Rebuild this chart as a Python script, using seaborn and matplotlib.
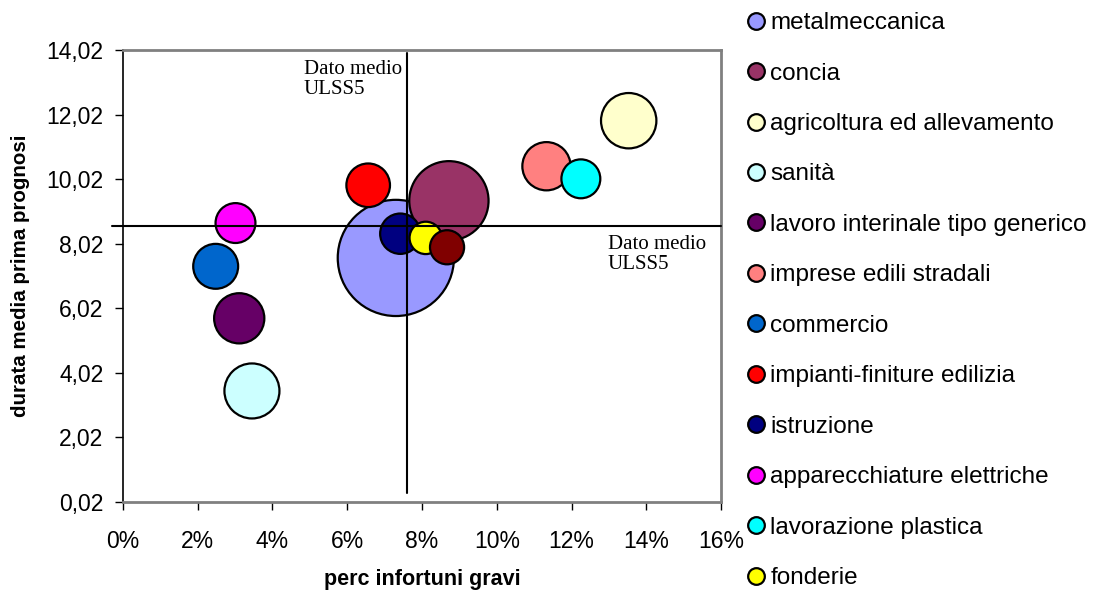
import numpy as np
import pandas as pd
import matplotlib
matplotlib.use("Agg")
import matplotlib.pyplot as plt
from matplotlib.lines import Line2D
from matplotlib.ticker import FixedLocator, FuncFormatter
import seaborn as sns

# settori (ordine di disegno = ordine legenda)
settori = ["metalmeccanica", "concia", "agricoltura ed allevamento", "sanità",
           "lavoro interinale tipo generico", "imprese edili stradali", "commercio",
           "impianti-finiture edilizia", "istruzione", "apparecchiature elettriche",
           "lavorazione plastica", "fonderie", "legno"]
perc_gravi = [0.0730, 0.0872, 0.1353, 0.0345, 0.0311, 0.1133, 0.0248,
              0.0656, 0.0742, 0.0301, 0.1225, 0.0810, 0.0867]
durata_media = [7.58, 9.35, 11.83, 3.46, 5.71, 10.42, 7.32,
                9.83, 8.33, 8.66, 10.03, 8.20, 7.91]
n_casi = [348, 162, 79, 78, 65, 60, 52, 49, 42, 41, 39, 27, 30]
colori = ["#9999FF", "#993366", "#FFFFCC", "#CCFFFF", "#660066", "#FF8080", "#0066CC",
          "#FF0000", "#000080", "#FF00FF", "#00FFFF", "#FFFF00", "#800000"]

# dato medio ULSS5
media_x = 0.0759
media_y = 8.56

df = pd.DataFrame({"settore": settori, "perc": perc_gravi,
                   "durata": durata_media, "casi": n_casi})
palette = dict(zip(settori, colori))

sns.set_style("white")
plt.rcParams["font.family"] = ["Liberation Sans", "DejaVu Sans"]
plt.rcParams.update({"text.color": "black", "axes.labelcolor": "black",
                     "xtick.color": "black", "ytick.color": "black"})

fig = plt.figure(figsize=(11.17, 5.98), dpi=100)
ax = fig.add_axes([0.1101, 0.1605, 0.5354, 0.7559])

sns.scatterplot(data=df, x="perc", y="durata", hue="settore", hue_order=settori,
                palette=palette, size="casi", sizes=(0, 7000), size_norm=(0, 348),
                edgecolor="black", linewidth=1.6, alpha=1, legend=False, ax=ax,
                zorder=3)

# linee del dato medio
ax.plot([-0.003, 0.16], [media_y, media_y], color="black", lw=1.5,
        clip_on=False, zorder=4)
ax.plot([media_x, media_x], [0.30, 13.93], color="black", lw=1.5, zorder=4)

ax.text(0.0484, 13.72, "Dato medio\nULSS5", family="Liberation Serif",
        fontsize=15, va="top", ha="left", linespacing=1.1, zorder=5)
ax.text(0.1297, 8.30, "Dato medio\nULSS5", family="Liberation Serif",
        fontsize=15, va="top", ha="left", linespacing=1.1, zorder=5)

ax.set_xlim(0, 0.16)
ax.set_ylim(0.02, 14.02)
ax.xaxis.set_major_locator(FixedLocator(np.arange(0, 0.161, 0.02)))
ax.yaxis.set_major_locator(FixedLocator(np.arange(0.02, 14.03, 2)))
ax.xaxis.set_major_formatter(FuncFormatter(lambda v, p: f"{v*100:.0f}%"))
ax.yaxis.set_major_formatter(FuncFormatter(lambda v, p: f"{v:.2f}".replace(".", ",")))
ax.tick_params(axis="both", direction="out", length=6, width=1, colors="black",
               labelsize=16.5, left=True, bottom=True)
ax.tick_params(axis="x", pad=14)
ax.tick_params(axis="y", pad=8)
ax.set_xlabel("perc infortuni gravi", fontsize=15.5, fontweight="bold", labelpad=12)
ax.set_ylabel("durata media prima prognosi", fontsize=14.8, fontweight="bold", labelpad=12)

for side in ["top", "right", "bottom"]:
    ax.spines[side].set_color("#808080")
    ax.spines[side].set_linewidth(2)
ax.spines["left"].set_color("black")
ax.spines["left"].set_linewidth(1.2)

handles = [Line2D([], [], marker="o", ls="", markersize=12, markerfacecolor=c,
                  markeredgecolor="black", markeredgewidth=1.6)
           for c in colori[:12]]
fig.legend(handles, settori[:12], loc="upper left", bbox_to_anchor=(0.658, 0.996),
           frameon=False, fontsize=17.5, handletextpad=0.1, handlelength=0.95,
           labelspacing=1.17, borderaxespad=0)

fig.savefig("out.png", dpi=100)
